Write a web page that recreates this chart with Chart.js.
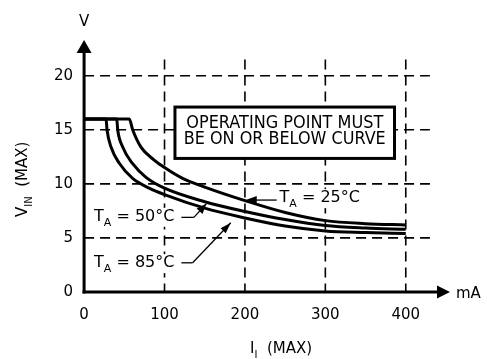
<!DOCTYPE html>
<html lang="en">
<head>
  <meta charset="UTF-8">
  <script src="https://cdn.jsdelivr.net/npm/chart.js@4.4.0/dist/chart.umd.min.js"></script>
  <title>VIN max vs IL max</title>
  <style>
    body { margin: 0; background: #fff; }
    #wrap { width: 487px; height: 359px; position: relative; }
  </style>
</head>
<body>
  <div id="wrap"><canvas id="myChart"></canvas></div>
  <script>
    // tick labels / grid
    const xTicks = [0, 100, 200, 300, 400]
    const yTicks = [0, 5, 10, 15, 20]
    const gridX = [100, 200, 300, 400]
    const gridY = [5, 10, 15, 20]

    // curves (mA, V)
    const t25X = [0, 56.2, 60.4, 70.7, 87.2, 100, 122.5, 150, 200, 250, 300, 350, 400]
    const t25Y = [16, 16, 15, 13.4, 12.2, 11.5, 10.5, 9.7, 8.45, 7.35, 6.6, 6.32, 6.2]
    const t50X = [0, 40.6, 41.8, 48, 60.4, 77, 100, 150, 200, 250, 300, 350, 400]
    const t50Y = [16, 16, 15, 13.4, 11.86, 10.6, 9.6, 8.35, 7.45, 6.7, 6.15, 5.92, 5.8]
    const t85X = [0, 27.3, 28.5, 33.5, 43.8, 60.4, 81, 100, 150, 200, 250, 300, 350, 400]
    const t85Y = [16, 16, 15, 13.4, 11.9, 10.5, 9.6, 9.0, 7.75, 6.85, 6.1, 5.65, 5.5, 5.4]
    const seriesNames = ['TA = 25°C', 'TA = 50°C', 'TA = 85°C']

    const FONT = '"DejaVu Sans", sans-serif'

    function pts(xs, ys) {
      return xs.map((x, i) => ({ x: x, y: ys[i] }))
    }

    function line(ctx, x1, y1, x2, y2) {
      ctx.beginPath()
      ctx.moveTo(x1, y1)
      ctx.lineTo(x2, y2)
      ctx.stroke()
    }

    function arrowHead(ctx, fx, fy, tx, ty, len, half) {
      const a = Math.atan2(ty - fy, tx - fx)
      ctx.beginPath()
      ctx.moveTo(tx, ty)
      ctx.lineTo(tx - len * Math.cos(a) + half * Math.sin(a), ty - len * Math.sin(a) - half * Math.cos(a))
      ctx.lineTo(tx - len * Math.cos(a) - half * Math.sin(a), ty - len * Math.sin(a) + half * Math.cos(a))
      ctx.closePath()
      ctx.fill()
    }

    // text with a subscript part: parts = [[text, size, dy], ...]
    function subText(ctx, x, y, parts, draw) {
      let cx = x
      parts.forEach(p => {
        ctx.font = p[1] + 'px ' + FONT
        if (draw) ctx.fillText(p[0], cx, y + p[2])
        cx += ctx.measureText(p[0]).width
      })
      return cx - x
    }

    const labels = [
      { parts: [['T', 16, 0], ['A', 11, 6], [' = 25°C', 16, 0]], x: 243, y: 8.68 },
      { parts: [['T', 16, 0], ['A', 11, 6], [' = 50°C', 16, 0]], x: 12.4, y: 6.95 },
      { parts: [['T', 16, 0], ['A', 11, 6], [' = 85°C', 16, 0]], x: 12.4, y: 2.67 }
    ]

    const drawing = {
      id: 'drawing',
      beforeDatasetsDraw(chart) {
        const { ctx, scales: { x, y } } = chart
        ctx.save()
        ctx.strokeStyle = '#000'
        ctx.lineWidth = 1.6
        ctx.setLineDash([10, 6])
        gridX.forEach(v => line(ctx, x.getPixelForValue(v), y.getPixelForValue(21.5), x.getPixelForValue(v), y.getPixelForValue(0)))
        gridY.forEach(v => line(ctx, x.getPixelForValue(0), y.getPixelForValue(v), x.getPixelForValue(430), y.getPixelForValue(v)))
        ctx.setLineDash([])

        // box
        const bl = x.getPixelForValue(113), br = x.getPixelForValue(386)
        const bt = y.getPixelForValue(17.1), bb = y.getPixelForValue(12.35)
        ctx.fillStyle = '#fff'
        ctx.fillRect(bl, bt, br - bl, bb - bt)
        ctx.lineWidth = 3
        ctx.strokeRect(bl, bt, br - bl, bb - bt)
        ctx.fillStyle = '#000'
        ctx.textBaseline = 'middle'
        ctx.textAlign = 'center'
        const cx = (bl + br) / 2
        ;[['OPERATING POINT MUST', 123.7, 197], ['BE ON OR BELOW CURVE', 140, 202]].forEach(r => {
          ctx.font = '17px ' + FONT
          const w = ctx.measureText(r[0]).width
          ctx.save()
          ctx.translate(cx, r[1] - 0.5)
          ctx.scale(r[2] / w, 1)
          ctx.fillText(r[0], 0, 0)
          ctx.restore()
        })

        // white backing behind curve labels
        ctx.textAlign = 'left'
        labels.forEach(l => {
          const w = subText(ctx, 0, 0, l.parts, false)
          ctx.fillStyle = '#fff'
          ctx.fillRect(x.getPixelForValue(l.x) - 2, y.getPixelForValue(l.y) - 9, w + 4, 19)
        })
        ctx.restore()
      },
      afterDatasetsDraw(chart) {
        const { ctx, scales: { x, y } } = chart
        ctx.save()
        ctx.strokeStyle = '#000'
        ctx.fillStyle = '#000'
        const x0 = x.getPixelForValue(0), y0 = y.getPixelForValue(0)
        const xEnd = x.getPixelForValue(455), yEnd = y.getPixelForValue(23.3)

        // axes with arrows
        ctx.lineWidth = 3
        line(ctx, x0, y0 + 1.5, x0, yEnd + 8)
        line(ctx, x0 - 1.5, y0, xEnd - 8, y0)
        arrowHead(ctx, x0, y0, x0, yEnd, 13, 7.5)
        arrowHead(ctx, x0, y0, xEnd, y0, 13, 6.5)

        // curve labels
        ctx.textBaseline = 'middle'
        ctx.textAlign = 'left'
        labels.forEach(l => subText(ctx, x.getPixelForValue(l.x), y.getPixelForValue(l.y), l.parts, true))

        // leader lines
        ctx.lineWidth = 1.3
        let ax = x.getPixelForValue(239.5), ay = y.getPixelForValue(8.5)
        let tx = x.getPixelForValue(201), ty = ay
        line(ctx, ax, ay, tx + 8, ty)
        arrowHead(ctx, ax, ay, tx, ty, 11, 4)

        ax = x.getPixelForValue(121); ay = y.getPixelForValue(6.9)
        let bx = x.getPixelForValue(136.5)
        tx = x.getPixelForValue(152); ty = y.getPixelForValue(8.15)
        line(ctx, ax, ay, bx, ay)
        line(ctx, bx, ay, tx, ty)
        arrowHead(ctx, bx, ay, tx, ty, 10, 4)

        ax = x.getPixelForValue(121); ay = y.getPixelForValue(2.7)
        bx = x.getPixelForValue(135)
        tx = x.getPixelForValue(182.4); ty = y.getPixelForValue(6.4)
        line(ctx, ax, ay, bx, ay)
        line(ctx, bx, ay, tx, ty)
        arrowHead(ctx, bx, ay, tx, ty, 11, 3.5)

        // axis titles
        ctx.textBaseline = 'alphabetic'
        ctx.font = '15px ' + FONT
        ctx.textAlign = 'center'
        ctx.fillText('V', x0, 26)
        ctx.textAlign = 'left'
        ctx.fillText('mA', xEnd + 6, y0 + 6)
        subText(ctx, 250, 353, [['I', 15, 0], ['I', 10, 5], ['  (MAX)', 15, 0]], true)
        ctx.translate(27, 217)
        ctx.rotate(-Math.PI / 2)
        subText(ctx, 0, 0, [['V', 15, 0], ['IN', 10, 5], ['  (MAX)', 15, 0]], true)
        ctx.restore()
      }
    }

    const curve = { showLine: true, pointRadius: 0, borderColor: '#000', borderWidth: 3, cubicInterpolationMode: 'monotone', fill: false }

    new Chart(document.getElementById('myChart'), {
      type: 'scatter',
      data: {
        datasets: [
          Object.assign({ label: seriesNames[0], data: pts(t25X, t25Y) }, curve),
          Object.assign({ label: seriesNames[1], data: pts(t50X, t50Y) }, curve),
          Object.assign({ label: seriesNames[2], data: pts(t85X, t85Y) }, curve)
        ]
      },
      options: {
        responsive: true,
        maintainAspectRatio: false,
        animation: false,
        layout: { padding: { left: 43, right: 37, top: 40, bottom: 21 } },
        plugins: { legend: { display: false }, tooltip: { enabled: false } },
        scales: {
          x: {
            type: 'linear', min: 0, max: 455,
            afterBuildTicks: s => { s.ticks = xTicks.map(v => ({ value: v })) },
            grid: { display: false, drawTicks: false },
            border: { display: false },
            ticks: { color: '#000', padding: 14, font: { family: 'DejaVu Sans', size: 15 } }
          },
          y: {
            type: 'linear', min: 0, max: 23.3,
            afterBuildTicks: s => { s.ticks = yTicks.map(v => ({ value: v })) },
            grid: { display: false, drawTicks: false },
            border: { display: false },
            ticks: { color: '#000', padding: 11, font: { family: 'DejaVu Sans', size: 15 } }
          }
        }
      },
      plugins: [drawing]
    })
  </script>
</body>
</html>
